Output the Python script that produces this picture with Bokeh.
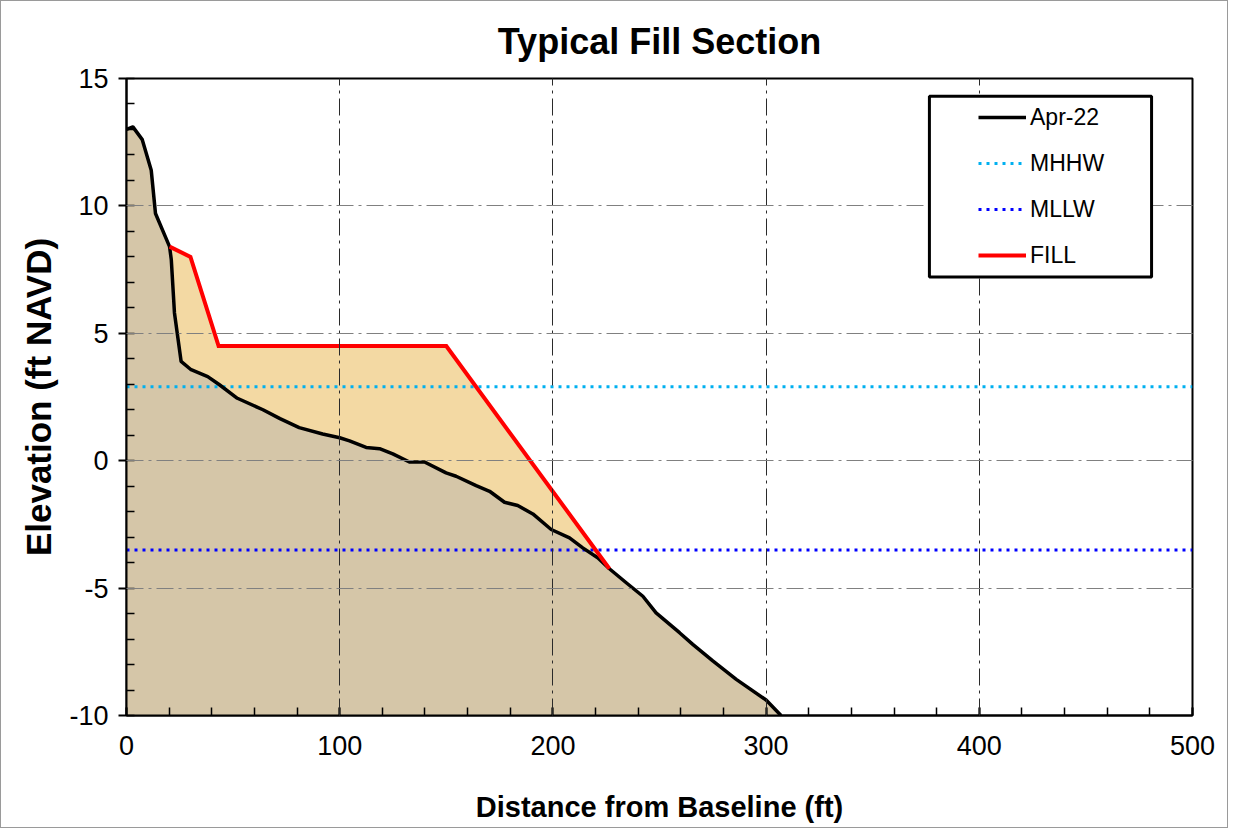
from bokeh.plotting import figure
from bokeh.models import Legend, LegendItem, BoxAnnotation, FixedTicker, Range1d, PrintfTickFormatter
from bokeh.embed import file_html
from bokeh.resources import INLINE

# ---- data ----
ground_x = [0, 3, 7.4, 11.6, 13.6, 20.2, 21, 22.5, 25.6, 30.3, 38.1, 43.6, 52, 64, 72, 81,
            92, 100, 104.6, 112.4, 118.7, 124.9, 132.7, 139.8, 149.9, 154.6, 164, 170.3,
            177.3, 183.5, 190.6, 199.2, 207.8, 214, 221, 226.5, 234.4, 242.2, 248.4,
            259.4, 265.6, 275, 286, 300, 307]
ground_y = [13.0, 13.1, 12.6, 11.4, 9.7, 8.4, 7.9, 5.8, 3.9, 3.57, 3.3, 2.98, 2.45, 2.0,
            1.65, 1.3, 1.05, 0.9, 0.78, 0.52, 0.47, 0.27, -0.05, -0.05, -0.48, -0.61,
            -0.98, -1.2, -1.63, -1.76, -2.09, -2.7, -3.03, -3.42, -3.81, -4.24, -4.79,
            -5.32, -5.97, -6.75, -7.21, -7.86, -8.58, -9.39, -10.0]
fill_x = [20.2, 30, 43.2, 150, 226.5]
fill_y = [8.4, 8.0, 4.5, 4.5, -4.24]
mhhw = 2.9
mllw = -3.5
x_limits = [0, 500]
y_limits = [-10, 15]
x_ticks = [0, 100, 200, 300, 400, 500]
y_ticks = [-10, -5, 0, 5, 10, 15]
series_names = ["Apr-22", "MHHW", "MLLW", "FILL"]

FONT = "Liberation Sans"

p = figure(width=1228, height=828,
           x_range=Range1d(*x_limits), y_range=Range1d(*y_limits),
           output_backend="svg", toolbar_location=None,
           min_border_left=125, min_border_right=37, min_border_top=76, min_border_bottom=114,
           title="Typical Fill Section")
p.styles = {"border": "1px solid #9a9a9a"}

# areas
x0, x1 = fill_x[0], fill_x[-1]
poly_x = list(fill_x)
poly_y = list(fill_y)
inner = [(gx, gy) for gx, gy in zip(ground_x, ground_y) if x0 < gx < x1]
for gx, gy in reversed(inner):
    poly_x.append(gx)
    poly_y.append(gy)
p.patch(poly_x, poly_y, fill_color="#F3D9A3", line_color=None)
p.varea(x=ground_x, y1=[y_limits[0]] * len(ground_x), y2=ground_y, fill_color="#D5C6A8")

# lines
r_mhhw = p.line(x_limits, [mhhw, mhhw], line_color="#00B0F0", line_width=3, line_dash="3 5")
r_mllw = p.line(x_limits, [mllw, mllw], line_color="#0000FF", line_width=3, line_dash="3 5")
r_ground = p.line(ground_x, ground_y, line_color="black", line_width=3.5, line_join="round")
r_fill = p.line(fill_x, fill_y, line_color="#FF0000", line_width=4, line_join="miter")

# legend frame (white box) then legend
box = BoxAnnotation(left=376.6, right=480.8, top=14.30, bottom=7.21,
                    fill_color="white", fill_alpha=1.0,
                    line_color="black", line_width=3, line_alpha=1.0)
p.add_layout(box)
legend = Legend(items=[LegendItem(label=series_names[0], renderers=[r_ground]),
                       LegendItem(label=series_names[1], renderers=[r_mhhw]),
                       LegendItem(label=series_names[2], renderers=[r_mllw]),
                       LegendItem(label=series_names[3], renderers=[r_fill])],
                location=(852, 440), padding=0, spacing=6, label_height=40, glyph_height=40,
                glyph_width=48, label_standoff=4, border_line_alpha=0, background_fill_alpha=0,
                label_text_font=FONT, label_text_font_size="23px", label_text_color="black",
                margin=0)
p.add_layout(legend)

# title
p.title.align = "center"
p.title.text_font = FONT
p.title.text_font_size = "36px"
p.title.text_font_style = "bold"
p.title.text_color = "black"
p.title.standoff = 34

# axes
p.xaxis.ticker = FixedTicker(ticks=x_ticks, minor_ticks=list(range(0, 501, 20)))
p.yaxis.ticker = FixedTicker(ticks=y_ticks, minor_ticks=list(range(-10, 16)))
p.xaxis.formatter = PrintfTickFormatter(format="%d")
p.yaxis.formatter = PrintfTickFormatter(format="%d")
for ax in (p.xaxis, p.yaxis):
    ax.axis_line_width = 2
    ax.axis_line_color = "black"
    ax.major_tick_line_width = 2
    ax.major_tick_line_color = "black"
    ax.minor_tick_line_width = 1.5
    ax.minor_tick_line_color = "black"
    ax.major_label_text_font = FONT
    ax.major_label_text_font_size = "27px"
    ax.major_label_text_color = "black"
    ax.axis_label_text_font = FONT
    ax.axis_label_text_font_style = "bold"
    ax.axis_label_text_color = "black"
p.xaxis.major_tick_in = 8
p.xaxis.major_tick_out = 0
p.xaxis.minor_tick_in = 8
p.xaxis.minor_tick_out = 0
p.xaxis.major_label_standoff = 20
p.xaxis.axis_label = "Distance from Baseline (ft)"
p.xaxis.axis_label_text_font_size = "29px"
p.xaxis.axis_label_standoff = 33
p.yaxis.major_tick_in = 0
p.yaxis.major_tick_out = 8
p.yaxis.minor_tick_in = 8
p.yaxis.minor_tick_out = 0
p.yaxis.major_label_standoff = 10
p.yaxis.axis_label = "Elevation (ft NAVD)"
p.yaxis.axis_label_text_font_size = "35px"
p.yaxis.axis_label_standoff = 8

p.outline_line_color = "black"
p.outline_line_width = 2
p.outline_line_alpha = 1

p.xgrid.grid_line_color = "#2a2a2a"
p.ygrid.grid_line_color = "#808080"
for g in (p.xgrid, p.ygrid):
    g.grid_line_width = 1
    g.grid_line_dash = "17 5 3 5"
    g.level = "guide"

open("out.html", "w").write(file_html(p, INLINE))
